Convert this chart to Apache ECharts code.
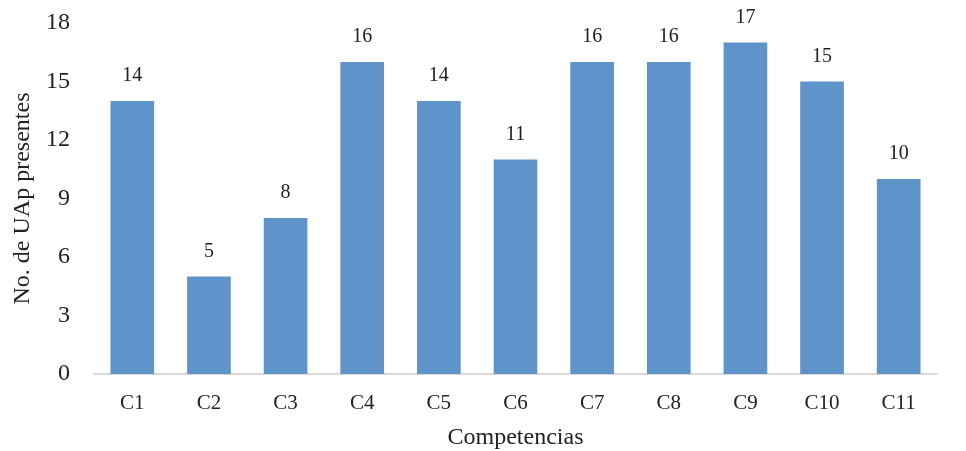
<!DOCTYPE html>
<html>
<head>
<meta charset="utf-8">
<script src="https://cdn.jsdelivr.net/npm/echarts@6/dist/echarts.min.js"></script>
<style>
  html, body { margin: 0; padding: 0; background: #fff; }
  #chart { width: 966px; height: 451px; }
</style>
</head>
<body>
<div id="chart"></div>
<script>
// Competencias y número de UAp presentes
const categories = ['C1', 'C2', 'C3', 'C4', 'C5', 'C6', 'C7', 'C8', 'C9', 'C10', 'C11'];
const values = [14, 5, 8, 16, 14, 11, 16, 16, 17, 15, 10];
const yTicks = { min: 0, max: 18, interval: 3 };

const FONT = '"Liberation Serif", "Times New Roman", serif';
const chart = echarts.init(document.getElementById('chart'));
chart.setOption({
  animation: false,
  grid: {
    left: 94, right: 29, top: 23, bottom: 77,
    containLabel: false,
    outerBoundsMode: 'none'
  },
  xAxis: {
    type: 'category',
    data: categories,
    name: 'Competencias',
    nameLocation: 'middle',
    nameGap: 52,
    nameTextStyle: { fontFamily: FONT, fontSize: 24, color: '#222' },
    axisLine: { lineStyle: { color: '#d9d9d9', width: 2 } },
    axisTick: { show: false },
    axisLabel: { fontFamily: FONT, fontSize: 21, color: '#222', margin: 19 }
  },
  yAxis: {
    type: 'value',
    min: yTicks.min,
    max: yTicks.max,
    interval: yTicks.interval,
    name: 'No. de UAp presentes',
    nameLocation: 'middle',
    nameGap: 58,
    nameTextStyle: { fontFamily: FONT, fontSize: 24, color: '#222' },
    axisLine: { show: false },
    axisTick: { show: false },
    splitLine: { show: false },
    axisLabel: {
      fontFamily: FONT, fontSize: 24, color: '#222', margin: 24,
      padding: [6, 0, 0, 0]
    }
  },
  series: [{
    type: 'bar',
    data: values,
    barWidth: '57%',
    itemStyle: { color: '#5e94c9' },
    label: {
      show: true,
      position: 'top',
      distance: 15,
      fontFamily: FONT,
      fontSize: 20,
      color: '#222'
    }
  }]
});
</script>
</body>
</html>
